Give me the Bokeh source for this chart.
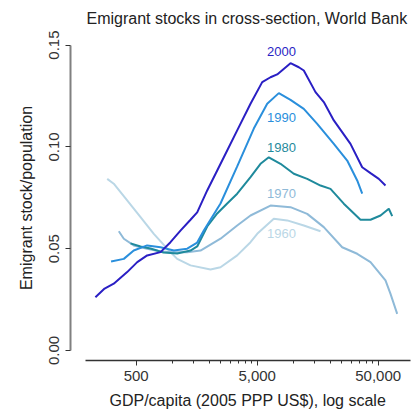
from bokeh.plotting import figure
from bokeh.models import FixedTicker, NumeralTickFormatter, Label, Title
from bokeh.embed import file_html
from bokeh.resources import INLINE

# ---- data ----
gdp_2000 = [230, 274, 326, 421, 510, 616, 794, 960, 1161, 1405, 1596, 1931, 2336, 2649, 3417, 4402,
            5500, 6440, 7316, 9423, 11036, 12136, 15164, 17760, 21490, 29510, 36880, 43190, 50580, 57440]
emi_2000 = [0.0262, 0.0304, 0.0328, 0.0385, 0.0434, 0.0467, 0.0483, 0.0532, 0.0589, 0.0642, 0.0678, 0.0786,
            0.0884, 0.0949, 0.1081, 0.1212, 0.1318, 0.1342, 0.1356, 0.1411, 0.1391, 0.1375, 0.1269,
            0.1220, 0.1130, 0.1015, 0.0900, 0.0871, 0.0843, 0.0810]

gdp_1990 = [310, 395, 477, 616, 794, 1023, 1320, 1596, 1810, 2487, 3417, 4687, 6047, 7543, 9423,
            12136, 15665, 21490, 27720, 33530, 36880]
emi_1990 = [0.0437, 0.0450, 0.0491, 0.0516, 0.0507, 0.0491, 0.0500, 0.0530, 0.0589, 0.0722, 0.0904,
            0.1090, 0.1212, 0.1264, 0.1231, 0.1187, 0.1113, 0.1015, 0.0933, 0.0835, 0.0770]

gdp_1980 = [449, 543, 656, 840, 1091, 1405, 1596, 1931, 2336, 2825, 3417, 4402, 5325, 6234, 7791, 10035,
            12950, 16680, 20170, 25980, 35700, 43190, 52260, 61190, 65270]
emi_1980 = [0.0526, 0.0511, 0.0501, 0.0481, 0.0476, 0.0491, 0.0511, 0.0609, 0.0673, 0.0722, 0.0770,
            0.0851, 0.0917, 0.0949, 0.0917, 0.0868, 0.0843, 0.0810, 0.0794, 0.0721, 0.0642, 0.0642,
            0.0663, 0.0696, 0.0660]

gdp_1970 = [359, 395, 477, 616, 794, 1023, 1320, 1700, 2487, 3417, 4402, 6440, 9423, 12950, 17760,
            25200, 33530, 43190, 57440, 63200, 71780]
emi_1970 = [0.0586, 0.0549, 0.0516, 0.0500, 0.0486, 0.0483, 0.0483, 0.0491, 0.0549, 0.0614, 0.0663,
            0.0712, 0.0704, 0.0671, 0.0606, 0.0507, 0.0475, 0.0434, 0.0344, 0.0278, 0.0180]

gdp_1960 = [288, 326, 421, 543, 699, 902, 1091, 1405, 2056, 2487, 3417, 4402, 5000, 6858, 8850,
            12136, 16680]
emi_1960 = [0.0843, 0.0819, 0.0737, 0.0655, 0.0573, 0.0500, 0.0450, 0.0418, 0.0398, 0.0409, 0.0467,
            0.0532, 0.0573, 0.0647, 0.0639, 0.0614, 0.0586]

years = ["1960", "1970", "1980", "1990", "2000"]
x_major_ticks = [500, 5000, 50000]
x_minor_ticks = [1000, 1500, 2000, 2500, 3000, 3500, 4000, 4500,
                 10000, 15000, 20000, 25000, 30000, 35000, 40000, 45000]
y_ticks = [0.0, 0.05, 0.10, 0.15]

title_text = "Emigrant stocks in cross-section, World Bank"
xlabel_text = "GDP/capita (2005 PPP US$), log scale"
ylabel_text = "Emigrant stock/population"

series = [(gdp_1960, emi_1960), (gdp_1970, emi_1970), (gdp_1980, emi_1980),
          (gdp_1990, emi_1990), (gdp_2000, emi_2000)]
colors = ["#bad7e6", "#8fbad8", "#1f8a9c", "#2a8fdc", "#2a1fc4"]
label_x = [7940, 7940, 7940, 7940, 7940]
label_y = [0.0576, 0.0770, 0.0996, 0.1146, 0.1469]

FONT = "Liberation Sans"

p = figure(width=420, height=417, x_axis_type="log",
           x_range=(143.2, 96040), y_range=(-0.00491, 0.1547),
           output_backend="svg", toolbar_location=None,
           min_border_left=70, min_border_right=8, min_border_top=35, min_border_bottom=57)
p.outline_line_color = None
p.xgrid.visible = False
p.ygrid.visible = False
p.background_fill_color = "white"
p.border_fill_color = "white"

p.title.text = title_text
p.title.text_font = FONT
p.title.text_font_size = "16px"
p.title.text_font_style = "normal"
p.title.text_color = "#222222"
p.title.align = "left"
p.title.offset = 16
p.title.vertical_align = "top"
p.title.standoff = 14

for (gx, gy), c in zip(series, colors):
    p.line(gx, gy, line_color=c, line_width=2)

for yr, lx, ly, c in zip(years, label_x, label_y, colors):
    p.add_layout(Label(x=lx, y=ly, text=yr, text_align="center", text_baseline="middle",
                       text_color=c, text_font=FONT, text_font_size="13px"))

xa = p.xaxis[0]
xa.ticker = FixedTicker(ticks=x_major_ticks, minor_ticks=x_minor_ticks)
xa.formatter = NumeralTickFormatter(format="0,0")
xa.bounds = (190, 92500)
xa.axis_line_color = "#333333"
xa.axis_line_width = 1.5
xa.major_tick_in = 0
xa.major_tick_out = 5
xa.minor_tick_in = 0
xa.minor_tick_out = 3
xa.major_tick_line_color = "#333333"
xa.minor_tick_line_color = "#333333"
xa.major_label_text_font = FONT
xa.major_label_text_font_size = "15px"
xa.major_label_text_color = "#333333"
xa.major_label_standoff = 5

ya = p.yaxis[0]
ya.ticker = FixedTicker(ticks=y_ticks)
ya.formatter = NumeralTickFormatter(format="0.00")
ya.bounds = (0, 0.15)
ya.axis_line_color = "#808080"
ya.axis_line_width = 2
ya.major_tick_in = 0
ya.major_tick_out = 5
ya.minor_tick_out = 0
ya.minor_tick_in = 0
ya.major_tick_line_color = "#333333"
ya.major_label_orientation = "vertical"
ya.major_label_text_font = FONT
ya.major_label_text_font_size = "15px"
ya.major_label_text_color = "#333333"
ya.major_label_standoff = 6
ya.axis_label = ylabel_text
ya.axis_label_text_font = FONT
ya.axis_label_text_font_size = "16px"
ya.axis_label_text_font_style = "normal"
ya.axis_label_text_color = "#222222"
ya.axis_label_standoff = 12

p.add_layout(Title(text=xlabel_text, align="left", offset=39, vertical_align="bottom",
                   standoff=13, text_font=FONT, text_font_size="16px", text_font_style="normal",
                   text_color="#222222"), "below")

open("out.html", "w").write(file_html(p, INLINE))
